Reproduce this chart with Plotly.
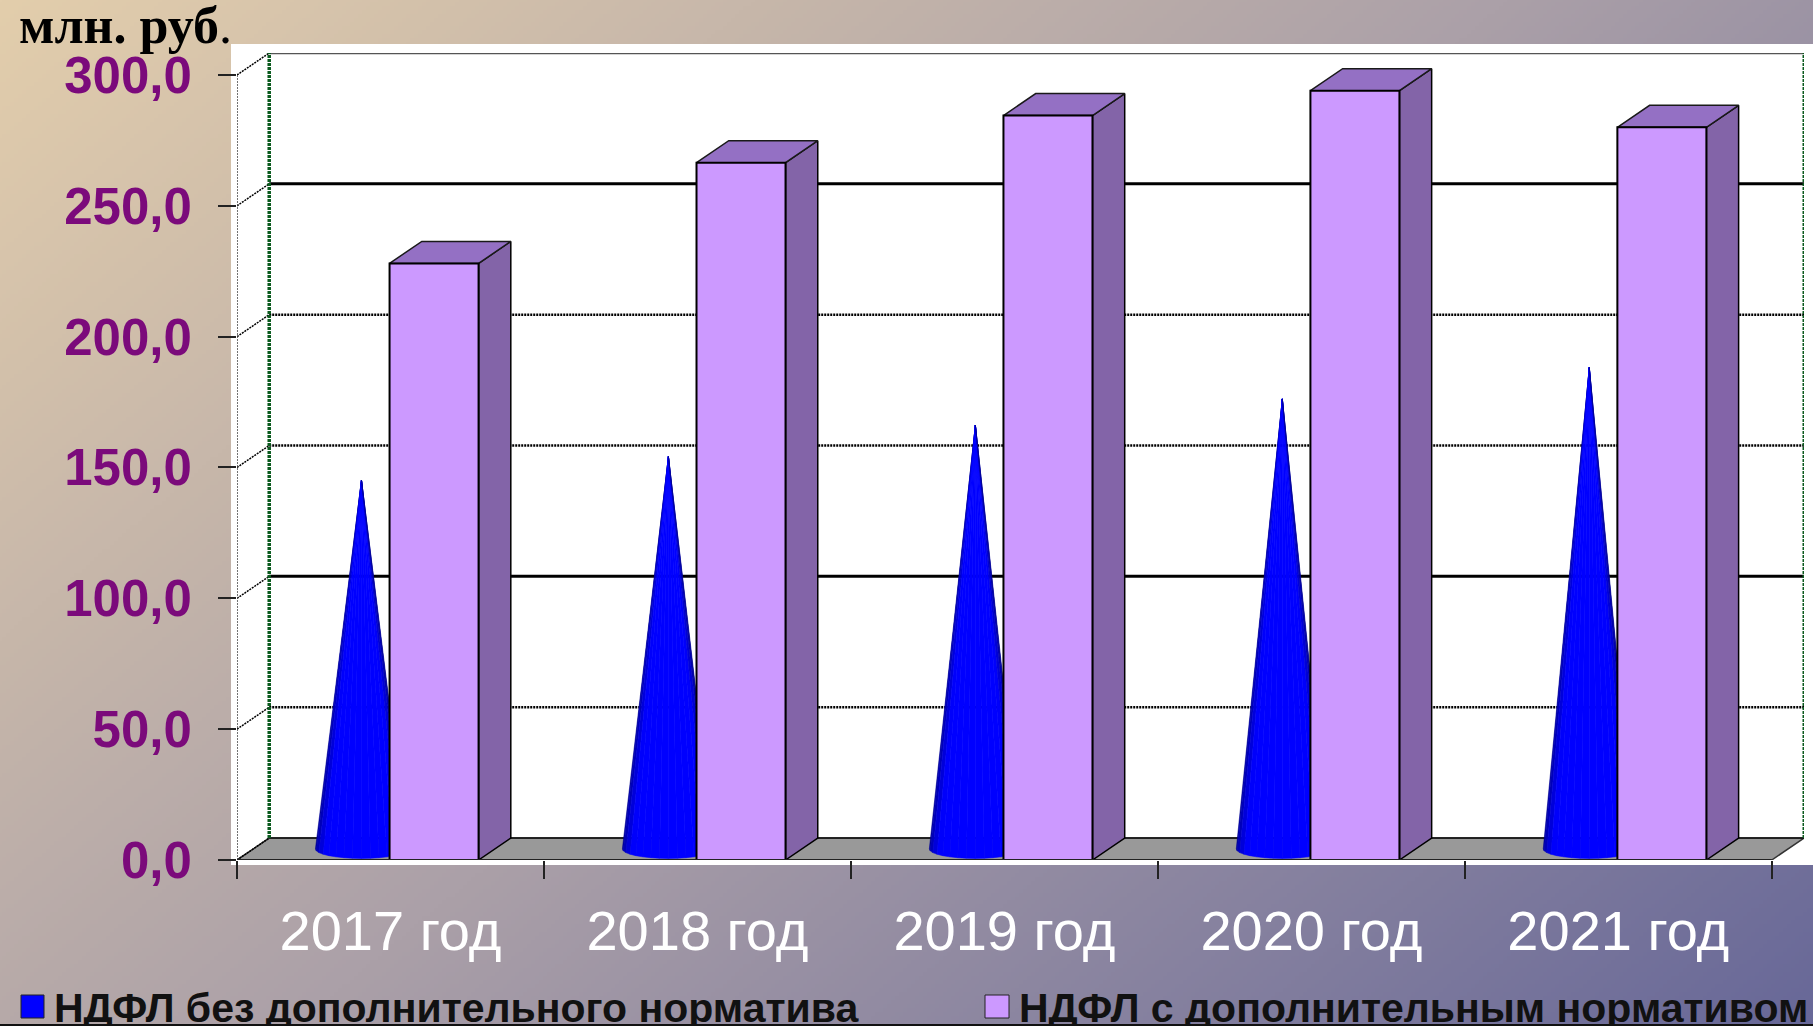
import base64, struct, zlib
import numpy as np
import plotly.graph_objects as go

years = ["2017 год", "2018 год", "2019 год", "2020 год", "2021 год"]
base_series = [141, 150, 162, 172, 184]
extra_series = [228, 266.5, 284.5, 294, 280]
name_base = "НДФЛ без дополнительного норматива"
name_extra = "НДФЛ с дополнительным нормативом"
y_ticks = [0, 50, 100, 150, 200, 250, 300]
y_labels = ["0,0", "50,0", "100,0", "150,0", "200,0", "250,0", "300,0"]
unit_label = "<b>млн. руб</b>."

W, H = 1813, 1026
L, T, R, B = 237, 53, 1804, 860
DX, DV = 0.105, 8.4       # oblique depth of the 3D box, in axis units
BAR_L, BAR_W = 0.497, 0.29
CONE_C, CONE_R, CONE_RY = 0.353, 0.15, 3.6
FRONT, SIDE, TOP = "#CC99FF", "#8364A8", "#9470C4"
xmax, ymax = 5 + DX, 308.4


def bg_png():
    w, h = 453, 257
    xx, yy = np.meshgrid(np.linspace(0, 1, w), np.linspace(0, 1, h))
    t = 0.60 * xx + 0.40 * yy
    stops = np.array([[227, 206, 172], [171, 160, 168], [104, 104, 152]], float)
    img = np.stack([np.interp(t, [0, .5, 1], stops[:, i]) for i in range(3)], -1).astype(np.uint8)
    raw = b"".join(b"\x00" + img[r].tobytes() for r in range(h))
    def chunk(k, d):
        return struct.pack(">I", len(d)) + k + d + struct.pack(">I", zlib.crc32(k + d) & 0xffffffff)
    png = b"\x89PNG\r\n\x1a\n" + chunk(b"IHDR", struct.pack(">IIBBBBB", w, h, 8, 2, 0, 0, 0)) + \
        chunk(b"IDAT", zlib.compress(raw, 9)) + chunk(b"IEND", b"")
    return "data:image/png;base64," + base64.b64encode(png).decode()


def px(x): return x / W
def py(y): return 1 - y / H

fig = go.Figure()

def poly(xs, ys, fill, line="black", lw=1, dash=None):
    fig.add_trace(go.Scatter(x=xs, y=ys, mode="lines", fill="toself", fillcolor=fill,
                             line=dict(color=line, width=lw, dash=dash), showlegend=False,
                             hoverinfo="skip", cliponaxis=False))

def line(xs, ys, color="black", lw=2, dash=None):
    fig.add_trace(go.Scatter(x=xs, y=ys, mode="lines", line=dict(color=color, width=lw, dash=dash),
                             showlegend=False, hoverinfo="skip", cliponaxis=False))

# floor
poly([0, 5, 5 + DX, DX, 0], [0, 0, DV, DV, 0], "#999999", "#333333", 1.5)

# back wall grid and side-wall diagonals
for v in y_ticks:
    if v == 300:
        line([DX, 5 + DX], [v + DV, v + DV], "#555555", 2.5)
    elif v == 0:
        line([DX, 5 + DX], [v + DV, v + DV], "#111111", 1.5)
    elif v in (100, 250):
        line([DX, 5 + DX], [v + DV, v + DV], "black", 3)
    else:
        line([DX, 5 + DX], [v + DV, v + DV], "black", 2.5, "2px,1px")
    line([0, DX], [v, v + DV], "black", 1.5, "2px,1px")
line([0, 0], [0, 300], "#444444", 1.5, "2px,1px")
for xw in (DX, 5 + DX):
    line([xw, xw], [DV, 300 + DV], "#0B5A1E", 3.5 if xw == DX else 3, "3px,1px")

# cones: each shade band holds one slice per year
angles = np.linspace(-90, 90, 17)
for k in range(16):
    a1, a2 = np.radians(angles[k]), np.radians(angles[k + 1])
    mid = abs((angles[k] + angles[k + 1]) / 2) / 90
    blue = int(255 - 120 * max(0, mid - 0.55) / 0.45)
    col = f"rgb(0,0,{blue})"
    xs, ys = [], []
    for i, v in enumerate(base_series):
        cx, cy = i + CONE_C + DX / 2, DV / 2
        xs += [cx, cx + CONE_R * np.sin(a1), cx + CONE_R * np.sin(a2), cx, None]
        ys += [v + DV / 2, cy - CONE_RY * np.cos(a1), cy - CONE_RY * np.cos(a2), v + DV / 2, None]
    poly(xs, ys, col, col, 0.6)

# boxes
for i, v in enumerate(extra_series):
    x0, x1 = i + BAR_L, i + BAR_L + BAR_W
    poly([x1, x1 + DX, x1 + DX, x1, x1], [0, DV, v + DV, v, 0], SIDE, "black", 1.5)
    poly([x0, x1, x1 + DX, x0 + DX, x0], [v, v, v + DV, v + DV, v], TOP, "#1a1a1a", 1.5)
    poly([x0, x1, x1, x0, x0], [0, 0, v, v, 0], FRONT, "black", 2)

# front edge with its small ticks
line([0, 5], [0, 0], "#222222", 2)
fine = [i / 9 for i in range(46)]
fig.add_trace(go.Scatter(x=fine, y=[-0.8] * len(fine), mode="markers", showlegend=False, hoverinfo="skip",
                         cliponaxis=False,
                         marker=dict(symbol="line-ns", size=5, line=dict(color="black", width=1))))

# legend entries
for nm, c, lg in ((name_base, "#0000FF", "legend"), (name_extra, FRONT, "legend2")):
    fig.add_trace(go.Scatter(x=[None], y=[None], mode="markers", name=nm, legend=lg,
                             marker=dict(symbol="square", size=16, color=c)))

shapes = [
    dict(type="rect", xref="paper", yref="paper", layer="below", line=dict(width=0), fillcolor="white",
         x0=px(231), x1=px(W), y0=py(865), y1=py(44)),
    dict(type="rect", xref="paper", yref="paper", line=dict(color="#222222", width=1), fillcolor="#0000FF",
         x0=px(21), x1=px(44), y0=py(1018), y1=py(995), layer="below"),
    dict(type="rect", xref="paper", yref="paper", line=dict(color="#222222", width=1), fillcolor=FRONT,
         x0=px(985), x1=px(1009), y0=py(1018), y1=py(995), layer="below"),
    dict(type="line", xref="paper", yref="paper", line=dict(color="#111111", width=2),
         x0=px(0), x1=px(W), y0=py(1025), y1=py(1025)),
]

legend_common = dict(orientation="h", yanchor="middle", y=py(1006), xanchor="left", itemwidth=30,
                     bgcolor="rgba(0,0,0,0)", itemclick=False, itemdoubleclick=False,
                     font=dict(size=41, color="#111111", family="Liberation Sans", weight="bold"))

fig.update_layout(
    width=W, height=H, autosize=False,
    margin=dict(l=0, r=0, t=0, b=0, pad=0, autoexpand=False),
    paper_bgcolor="rgba(0,0,0,0)", plot_bgcolor="rgba(0,0,0,0)",
    font=dict(family="Liberation Sans"),
    shapes=shapes,
    images=[dict(source=bg_png(), xref="paper", yref="paper", x=0, y=1, sizex=1, sizey=1,
                 sizing="stretch", xanchor="left", yanchor="top", layer="below")],
    xaxis=dict(domain=[L / W, R / W], range=[0, xmax], showgrid=False, zeroline=False, showline=False,
               tickvals=[i + 0.5 for i in range(5)], ticktext=years, ticks="", ticklabelstandoff=33,
               tickfont=dict(size=56, color="white", family="Liberation Sans"),
               minor=dict(tickvals=list(range(6)), ticks="outside", ticklen=18, tickwidth=1.5,
                          tickcolor="#222222", showgrid=False)),
    yaxis=dict(domain=[(H - B) / H, (H - T) / H], range=[0, ymax], showgrid=False, zeroline=False, showline=False,
               tickvals=y_ticks, ticktext=[f"<b>{s}</b>" for s in y_labels], ticks="outside", ticklen=18,
               tickwidth=1.5, tickcolor="#222222", ticklabelstandoff=16,
               tickfont=dict(size=51, color="#7B0A7B", family="Liberation Sans")),
    legend=dict(x=px(14), **legend_common),
    legend2=dict(x=px(979), **legend_common),
    annotations=[dict(text=unit_label, xref="paper", yref="paper", x=px(17), y=py(56), xanchor="left",
                      yanchor="bottom", showarrow=False, align="left",
                      font=dict(size=52, color="black", family="Liberation Serif"))],
    showlegend=True,
)

fig.write_html("out.html", config={"displayModeBar": False},
               post_script="document.body.style.margin='0';document.body.style.overflow='hidden';")
